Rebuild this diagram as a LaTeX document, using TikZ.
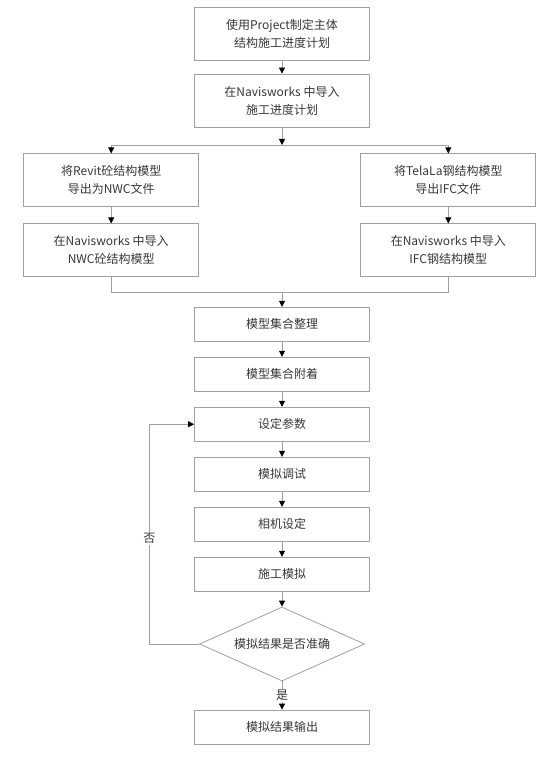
\documentclass[tikz,border=0pt]{standalone}
\usepackage{fontspec}
\setmainfont{Noto Sans CJK SC}
\usetikzlibrary{shapes.geometric,arrows.meta}
\definecolor{linegray}{RGB}{160,160,160}
\definecolor{textgray}{RGB}{55,55,55}
\begin{document}
\begin{tikzpicture}
    [
    x=1pt,y=-1pt,
    process/.style={rectangle,draw=linegray,line width=0.8pt,text=textgray,align=center,inner sep=0pt,minimum width=175pt,minimum height=34pt,font=\fontsize{12}{18}\selectfont},
    tall/.style={process,minimum height=53pt},
    decision/.style={diamond,aspect=2.23,draw=linegray,line width=0.8pt,text=textgray,inner sep=0pt,minimum width=165pt,minimum height=74pt,font=\fontsize{12}{18}\selectfont},
    flow/.style={draw=linegray,line width=0.8pt,-{Triangle[length=6pt,width=6pt,color=black]}},
    link/.style={draw=linegray,line width=0.8pt},
    tag/.style={fill=white,text=textgray,inner sep=1pt,font=\fontsize{12}{18}\selectfont}
    ]
    \useasboundingbox (0,0) rectangle (556,759);
    \node (plan) at (282,34.3) [tall] {使用Project制定主体\\结构施工进度计划};
    \node (import) at (282,100.5) [tall] {在Navisworks 中导入\\施工进度计划};
    \node (revit) at (111.2,180.3) [tall] {将Revit砼结构模型\\导出为NWC文件};
    \node (tekla) at (448.3,180.3) [tall] {将TelaLa钢结构模型\\导出IFC文件};
    \node (nwc) at (111.2,250.3) [tall] {在Navisworks 中导入\\NWC砼结构模型};
    \node (ifc) at (448.3,250.3) [tall] {在Navisworks 中导入\\IFC钢结构模型};
    \node (sort) at (282,324.2) [process] {模型集合整理};
    \node (attach) at (282,374.2) [process] {模型集合附着};
    \node (param) at (282,424.2) [process] {设定参数};
    \node (debug) at (282,474.2) [process] {模拟调试};
    \node (camera) at (282,524.2) [process] {相机设定};
    \node (sim) at (282,574.2) [process] {施工模拟};
    \node (check) at (282,644) [decision] {模拟结果是否准确};
    \node (output) at (282,727) [process] {模拟结果输出};
    \coordinate (split) at (282,145);
    \coordinate (merge) at (282,292.7);
    \coordinate (back) at (149.3,644);
    \draw [flow] (plan) to (import);
    \draw [flow] (import) to (split);
    \draw [link] (revit.north |- split) to (tekla.north |- split);
    \draw [flow] (revit.north |- split) to (revit);
    \draw [flow] (tekla.north |- split) to (tekla);
    \draw [flow] (revit) to (nwc);
    \draw [flow] (tekla) to (ifc);
    \draw [link] (nwc.south) |- (merge) -| (ifc.south);
    \draw [flow] (merge) to (sort);
    \draw [flow] (sort) to (attach);
    \draw [flow] (attach) to (param);
    \draw [flow] (param) to (debug);
    \draw [flow] (debug) to (camera);
    \draw [flow] (camera) to (sim);
    \draw [flow] (sim) to (check);
    \draw [flow] (check) to node [tag] {是} (output);
    \draw [flow] (check.west) -- (back) |- node [tag, pos=0.24] {否} (param.west);
  \end{tikzpicture}
\end{document}
